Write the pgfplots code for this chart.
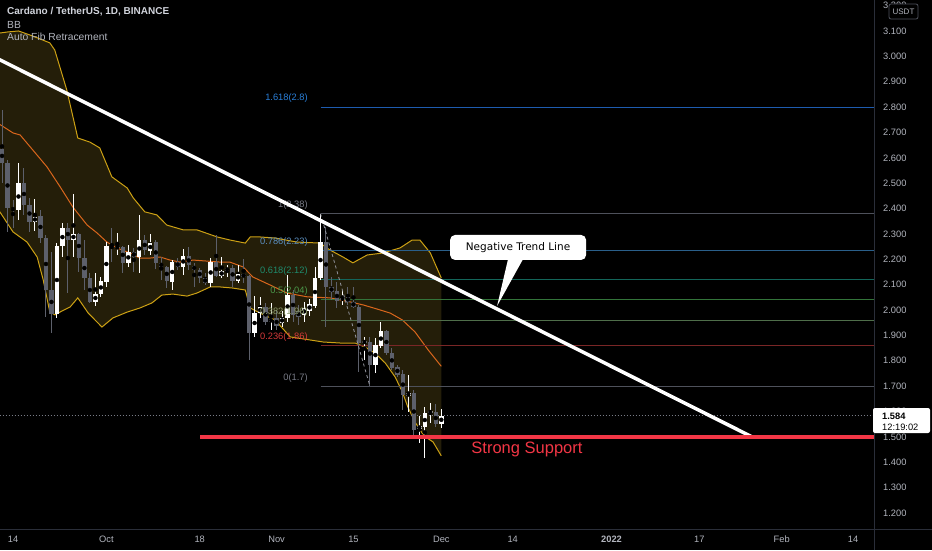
\documentclass[border=0pt]{standalone}
\usepackage{fontspec}
\setmainfont{Liberation Sans}
\newfontfamily\dejavu{DejaVu Sans}
\usepackage{pgfplots}
\pgfplotsset{compat=1.18}
\usepackage{pgfplotstable}
\usepgfplotslibrary{fillbetween}

\definecolor{sepline}{HTML}{2A2E39}
\definecolor{ticktxt}{HTML}{B2B5BE}
\definecolor{titletxt}{HTML}{D1D4DC}
\definecolor{dncol}{HTML}{5D606B}
\definecolor{bbfill}{HTML}{241E09}
\definecolor{bbline}{HTML}{CDA114}
\definecolor{bbmid}{HTML}{D9661C}
\definecolor{tvred}{HTML}{F23645}
\definecolor{fgray}{HTML}{787B86}
\definecolor{fgrayl}{HTML}{4E515B}
\definecolor{fblue}{HTML}{5B8FC0}
\definecolor{fbluel}{HTML}{2A5F8A}
\definecolor{fteal}{HTML}{1F8C6E}
\definecolor{fteall}{HTML}{13665A}
\definecolor{fgreen}{HTML}{4C9A4C}
\definecolor{fgreenl}{HTML}{33743A}
\definecolor{folive}{HTML}{8A9A6A}
\definecolor{folivel}{HTML}{4F6E4A}
\definecolor{fred}{HTML}{D63A3A}
\definecolor{fredl}{HTML}{7A2626}
\definecolor{fbig}{HTML}{2A7FD8}
\definecolor{fbigl}{HTML}{1E5CB0}

% day (0 = Sep 14), open, high, low, close
\pgfplotstableread{
d o h l c
1 2.394 2.580 2.355 2.501
4 2.347 2.438 2.312 2.367
8 1.985 2.264 1.969 2.252
9 2.252 2.343 2.209 2.323
11 2.276 2.458 2.209 2.300
15 2.032 2.146 2.016 2.063
16 2.063 2.130 2.052 2.115
17 2.111 2.268 2.091 2.252
19 2.245 2.304 2.217 2.249
21 2.186 2.256 2.170 2.229
23 2.209 2.375 2.146 2.276
25 2.233 2.300 2.217 2.264
29 2.111 2.197 2.079 2.189
31 2.170 2.241 2.138 2.213
36 2.107 2.205 2.091 2.189
38 2.134 2.209 2.126 2.154
39 2.154 2.178 2.130 2.166
41 2.115 2.178 2.107 2.142
44 1.910 2.055 1.894 1.988
45 1.988 2.052 1.969 2.012
47 1.953 2.028 1.921 1.965
49 1.949 1.996 1.933 1.969
50 1.969 2.138 1.953 2.059
53 1.981 2.032 1.953 2.008
54 1.996 2.044 1.977 2.024
55 2.016 2.170 2.008 2.126
56 2.126 2.380 2.119 2.268
60 2.040 2.079 2.020 2.048
64 1.870 1.894 1.803 1.878
66 1.783 1.890 1.752 1.862
67 1.858 1.953 1.850 1.917
72 1.661 1.744 1.598 1.673
74 1.531 1.582 1.476 1.543
75 1.539 1.618 1.417 1.594
76 1.594 1.634 1.555 1.602
78 1.551 1.610 1.535 1.584
}\up

\pgfplotstableread{
d o h l c
-2 2.635 2.789 2.501 2.580
-1 2.580 2.592 2.308 2.402
0 2.402 2.434 2.323 2.394
2 2.501 2.560 2.375 2.414
3 2.414 2.442 2.308 2.347
5 2.371 2.394 2.264 2.284
6 2.284 2.296 1.973 2.079
7 2.079 2.229 1.910 1.985
10 2.323 2.343 2.067 2.276
12 2.300 2.304 2.150 2.205
13 2.205 2.276 2.079 2.126
14 2.126 2.146 2.028 2.032
18 2.252 2.323 2.189 2.245
20 2.249 2.252 2.146 2.186
22 2.229 2.245 2.150 2.209
24 2.276 2.296 2.217 2.237
26 2.268 2.276 2.162 2.186
27 2.186 2.209 2.119 2.170
28 2.170 2.174 2.087 2.115
30 2.189 2.205 2.158 2.170
32 2.213 2.249 2.158 2.178
33 2.174 2.186 2.091 2.158
34 2.158 2.166 2.107 2.126
35 2.126 2.146 2.099 2.107
37 2.189 2.296 2.130 2.134
40 2.166 2.178 2.091 2.115
42 2.142 2.201 2.107 2.130
43 2.134 2.138 1.803 1.910
46 2.012 2.028 1.941 1.953
48 1.969 2.000 1.921 1.937
51 2.059 2.079 1.953 1.981
52 1.996 2.020 1.941 1.973
57 2.268 2.327 1.933 2.091
58 2.091 2.130 2.040 2.071
59 2.075 2.111 2.008 2.036
61 2.052 2.091 2.020 2.032
62 2.032 2.091 2.008 2.012
63 2.012 2.020 1.756 1.870
65 1.874 1.894 1.700 1.783
68 1.917 1.921 1.823 1.831
69 1.831 1.850 1.764 1.772
70 1.776 1.783 1.736 1.744
71 1.748 1.764 1.606 1.665
73 1.673 1.685 1.496 1.527
77 1.598 1.630 1.539 1.551
}\dn

% Bollinger bands
\pgfplotstableread{
d v
-3 3.090
-1 3.096
1 3.100
3.6 3.080
6.7 3.053
7.6 3.025
9.8 2.867
11.8 2.678
14 2.662
15.8 2.639
18 2.525
20.8 2.481
21.9 2.442
24 2.387
26.2 2.375
28 2.335
31 2.316
33.5 2.316
37.2 2.288
39.5 2.276
42.3 2.264
43.2 2.288
45 2.288
47.7 2.284
51.7 2.268
55.9 2.264
57.7 2.237
60.1 2.209
61.9 2.186
64.5 2.217
67.4 2.225
70.5 2.245
72.7 2.276
74.1 2.276
76 2.225
78 2.126
}\bbup

\pgfplotstableread{
d v
-3 2.740
0 2.698
1.3 2.690
3.6 2.631
6.2 2.564
8.6 2.485
10.9 2.406
13.5 2.335
15.3 2.304
17.1 2.268
18.9 2.245
21.3 2.225
23.1 2.205
25 2.205
26.8 2.209
28.6 2.197
30.4 2.189
32.8 2.197
35.3 2.193
37.7 2.189
39.5 2.189
41.9 2.170
43.7 2.130
46.8 2.099
49.9 2.067
53.6 2.052
57.7 2.048
61.4 2.032
63.8 2.020
66.3 2.004
68.7 1.988
70.9 1.961
73.2 1.914
75.6 1.843
78 1.778
}\bbmid

\pgfplotstableread{
d v
-3 2.400
-2.4 2.387
0 2.308
2.55 2.268
4.4 2.209
5.5 2.119
6.7 1.992
7.65 1.981
8.9 1.996
10.4 2.012
11.8 2.048
13.7 1.988
16.2 1.933
18.2 1.969
20.8 1.992
23.1 2.008
25.3 2.028
27.1 2.059
29.1 2.063
31.7 2.055
33.5 2.067
35.9 2.091
37.7 2.091
39.9 2.087
42.3 2.079
43.2 2.008
45 1.988
47.7 1.961
50.5 1.894
54.1 1.882
56.5 1.874
59.6 1.870
62.3 1.870
64.1 1.854
65.9 1.831
67.8 1.791
69.6 1.736
70.9 1.677
71.9 1.618
73.2 1.559
74.5 1.515
75.4 1.496
76.5 1.480
78 1.425
}\bblo

\pgfplotsset{
  wick/.style={only marks, mark=none, forget plot,
    error bars/y dir=both, error bars/y explicit, error bars/error mark=none,
    error bars/error bar style={line width=1pt, draw=#1, solid}},
  body/.style={only marks, mark=none, forget plot,
    error bars/y dir=both, error bars/y explicit, error bars/error mark=none,
    error bars/error bar style={line width=4.4pt, draw=#1, solid}},
}
\tikzset{
  fiblab/.style={anchor=east, inner sep=0pt, yshift=8.5pt, font=\fontsize{9.3}{10}\selectfont},
}

\begin{document}
\begin{tikzpicture}
\begin{axis}[
  set layers,
  at={(0pt,21pt)}, anchor=south west,
  scale only axis, width=874pt, height=529pt,
  xmin=-2.368, xmax=156.8, ymin=1.137, ymax=3.222,
  clip mode=individual,
  axis line style={draw=none},
  major tick length=0pt,
  /pgf/number format/assume math mode=true,
  ytick={1.2,1.3,1.4,1.5,1.6,1.7,1.8,1.9,2.0,2.1,2.2,2.3,2.4,2.5,2.6,2.7,2.8,2.9,3.0,3.1,3.2},
  yticklabel pos=right,
  yticklabel={\pgfmathprintnumber[fixed,fixed zerofill,precision=3]{\tick}},
  yticklabel style={anchor=west, inner sep=0pt, xshift=9pt, text=ticktxt, font=\fontsize{9.3}{10}\selectfont},
  xtick={0,17,34,48,62,78,91,109,125,140,153},
  xticklabels={14,Oct,18,Nov,15,Dec,14,\textbf{2022},17,Feb,14},
  xticklabel style={anchor=center, inner sep=0pt, yshift=-10pt, text=ticktxt, font=\fontsize{9.3}{10}\selectfont},
]
\begin{pgfonlayer}{axis background}
  \fill[black] (rel axis cs:0,-0.0397) rectangle (rel axis cs:1.06636,1);
\end{pgfonlayer}

% Bollinger band
\addplot[name path=up, bbline, line width=1pt] table[x=d, y=v] {\bbup};
\addplot[name path=lo, bbline, line width=1pt] table[x=d, y=v] {\bblo};
\addplot[bbfill] fill between[of=up and lo];
\addplot[bbmid, line width=1pt] table[x=d, y=v] {\bbmid};

% Fib levels
\addplot[fbigl, line width=0.8pt] coordinates {(56,2.80) (157,2.80)};
\addplot[fgrayl, line width=0.8pt] coordinates {(56,2.38) (157,2.38)};
\addplot[fbluel, line width=0.8pt] coordinates {(56,2.2345) (157,2.2345)};
\addplot[fteall, line width=0.8pt] coordinates {(56,2.120) (157,2.120)};
\addplot[fgreenl, line width=0.8pt] coordinates {(56,2.040) (157,2.040)};
\addplot[folivel, line width=0.8pt] coordinates {(56,1.960) (157,1.960)};
\addplot[fredl, line width=0.8pt] coordinates {(56,1.860) (157,1.860)};
\addplot[fgrayl, line width=0.8pt] coordinates {(56,1.700) (157,1.700)};

% last price line
\addplot[fgray, line width=0.6pt, dash pattern=on 1pt off 2pt] coordinates {(-3,1.584) (157,1.584)};

% candles
\addplot[wick=dncol] table[x=d, y expr={(\thisrow{h}+\thisrow{l})/2}, y error expr={(\thisrow{h}-\thisrow{l})/2}] {\dn};
\addplot[body=dncol] table[x=d, y expr={(\thisrow{o}+\thisrow{c})/2}, y error expr={max(abs(\thisrow{c}-\thisrow{o})/2,0.0018)}] {\dn};
\addplot[wick=white] table[x=d, y expr={(\thisrow{h}+\thisrow{l})/2}, y error expr={(\thisrow{h}-\thisrow{l})/2}] {\up};
\addplot[body=white] table[x=d, y expr={(\thisrow{o}+\thisrow{c})/2}, y error expr={max(abs(\thisrow{c}-\thisrow{o})/2,0.0018)}] {\up};

% fib swing
\addplot[fgray!80!white, line width=0.8pt, dash pattern=on 3pt off 3pt] coordinates {(56,2.38) (65,1.70)};

% fib labels
\node[fiblab, text=fbig] at (axis cs:53.7,2.80) {1.618(2.8)};
\node[fiblab, text=fgray] at (axis cs:53.7,2.38) {1(2.38)};
\node[fiblab, text=fblue] at (axis cs:53.7,2.2345) {0.786(2.23)};
\node[fiblab, text=fteal] at (axis cs:53.7,2.120) {0.618(2.12)};
\node[fiblab, text=fgreen] at (axis cs:53.7,2.040) {0.5(2.04)};
\node[fiblab, text=folive] at (axis cs:53.7,1.960) {0.382(1.96)};
\node[fiblab, text=fred] at (axis cs:53.7,1.860) {0.236(1.86)};
\node[fiblab, text=fgray] at (axis cs:53.7,1.700) {0(1.7)};

% trend line and support
\addplot[white, line width=3.5pt] coordinates {(-5,3.0145) (134.6,1.50)};
\addplot[tvred, line width=3.3pt] coordinates {(34.1,1.50) (157,1.50)};
\node[text=tvred, font=\fontsize{16.5}{18}\selectfont, inner sep=0pt] at (axis cs:93.6,1.452) {Strong Support};

% callout
\fill[white, rounded corners=5pt] (axis cs:79.6,2.2959) rectangle (axis cs:104.37,2.1974);
\fill[white] (axis cs:90.16,2.2013) -- (axis cs:92.9,2.2013) -- (axis cs:88.16,2.016) -- cycle;
\node[text=black, font=\dejavu\fontsize{10.5}{12}\selectfont, inner sep=0pt] at (axis cs:91.98,2.2466) {Negative Trend Line};
\end{axis}

% panel separators
\draw[sepline, line width=1pt] (874pt,0pt) -- (874pt,550pt);
\draw[sepline, line width=1pt] (0pt,21pt) -- (932pt,21pt);

% header
\node[anchor=west, inner sep=0pt, text=titletxt, font=\bfseries\fontsize{10}{11}\selectfont] at (7pt,538pt) {Cardano / TetherUS, 1D, BINANCE};
\node[anchor=west, inner sep=0pt, text=ticktxt, font=\fontsize{10.3}{11}\selectfont] at (7pt,525pt) {BB};
\node[anchor=west, inner sep=0pt, text=ticktxt, font=\fontsize{10.3}{11}\selectfont] at (7pt,513pt) {Auto Fib Retracement};

% currency badge
\filldraw[fill=black, draw=fgrayl, rounded corners=2pt, line width=0.8pt] (889pt,531pt) rectangle (918pt,546pt);
\node[text=ticktxt, font=\fontsize{8}{9}\selectfont, inner sep=0pt] at (903.5pt,538.5pt) {USDT};

% last price badge
\fill[white, rounded corners=2pt] (873pt,117pt) rectangle (930pt,142pt);
\node[anchor=west, inner sep=0pt, text=black, font=\bfseries\fontsize{9.3}{10}\selectfont] at (882pt,134pt) {1.584};
\node[anchor=west, inner sep=0pt, text=black, font=\fontsize{9.3}{10}\selectfont] at (882pt,123pt) {12:19:02};

\pgfresetboundingbox
\useasboundingbox (0pt,0pt) rectangle (932pt,550pt);
\end{tikzpicture}
\end{document}
